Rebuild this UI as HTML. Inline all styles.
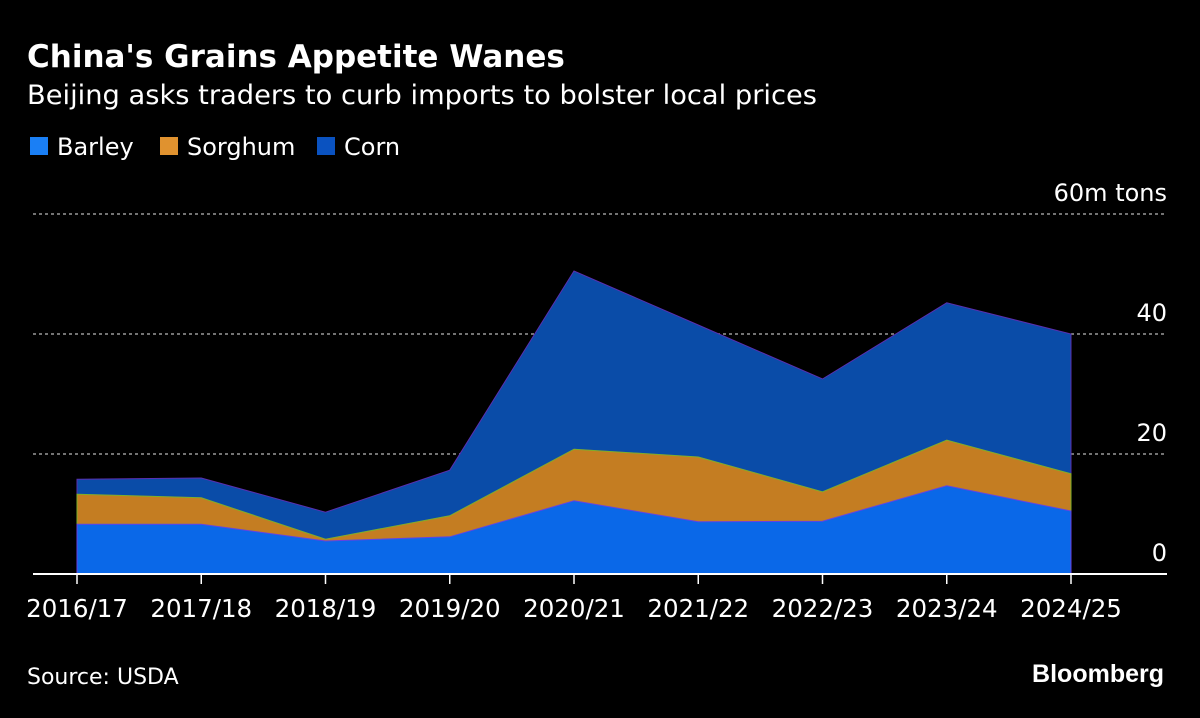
<!DOCTYPE html>
<html><head><meta charset="utf-8"><style>
body{margin:0;background:#000;width:1200px;height:714px;overflow:hidden;font-family:"DejaVu Sans","Liberation Sans",sans-serif;color:#fff}
</style></head><body>
<svg width="1200" height="714" xmlns="http://www.w3.org/2000/svg">
<text x="27" y="67" font-size="31" font-weight="bold" fill="#fff">China's Grains Appetite Wanes</text>
<text x="27" y="104" font-size="27" fill="#fff" textLength="790" lengthAdjust="spacingAndGlyphs">Beijing asks traders to curb imports to bolster local prices</text>
<g>
<rect x="30" y="137" width="18" height="18" fill="#1a7ff5"/>
<text x="57" y="155" font-size="24" fill="#fff">Barley</text>
<rect x="160" y="137" width="18" height="18" fill="#e0922f"/>
<text x="187" y="155" font-size="24" fill="#fff">Sorghum</text>
<rect x="317" y="137" width="18" height="18" fill="#0a52c0"/>
<text x="344" y="155" font-size="24" fill="#fff">Corn</text>
</g>
<g id="plot"></g>
<text x="27" y="684" font-size="22" fill="#fff">Source: USDA</text>
<text x="1164" y="682" font-size="25" font-weight="bold" fill="#fff" text-anchor="end" font-family="Liberation Sans, sans-serif">Bloomberg</text>
</svg>
<script>
const categories=["2016/17","2017/18","2018/19","2019/20","2020/21","2021/22","2022/23","2023/24","2024/25"];
const barley=[8.3,8.3,5.5,6.2,12.2,8.7,8.8,14.7,10.5];
const sorghum=[5.0,4.4,0.3,3.5,8.6,10.8,4.9,7.6,6.2];
const corn=[2.5,3.3,4.5,7.6,29.7,22.0,18.8,22.9,23.3];
const yTicks=[0,20,40,60];
const yTickLabels=["0","20","40","60m tons"];
const NS="http://www.w3.org/2000/svg";
const g=document.getElementById('plot');
const x=i=>77+i*(1071-77)/(categories.length-1);
const y=v=>574-v*6;
function mk(t,a){const e=document.createElementNS(NS,t);for(const k in a)e.setAttribute(k,a[k]);g.appendChild(e);return e;}
yTicks.forEach((t,i)=>{
 if(t>0){const l=mk('line',{x1:33,x2:1167,y1:y(t),y2:y(t),stroke:'#999','stroke-width':1.5,'stroke-dasharray':'3,3'});
 
 }
 const tx=mk('text',{x:1167,y:y(t)-13,'font-size':24,fill:'#fff','text-anchor':'end'});
 tx.textContent=yTickLabels[i];
 
 
});
const b0=categories.map(()=>0);
const b1=barley.slice();
const b2=barley.map((v,i)=>v+sorghum[i]);
const b3=b2.map((v,i)=>v+corn[i]);
function area(lo,hi,fill,name,edge){
 let d='M'+x(0)+','+y(hi[0]);
 for(let i=1;i<hi.length;i++)d+='L'+x(i)+','+y(hi[i]);
 for(let i=lo.length-1;i>=0;i--)d+='L'+x(i)+','+y(lo[i]);
 const p=mk('path',{d:d+'Z',fill:fill,stroke:edge,'stroke-width':1});
 
 
}
area(b2,b3,'#0a4ca8','area-corn','#5a2fb0');
area(b1,b2,'#c47d22','area-sorghum','#7bb02a');
area(b0,b1,'#0a68e8','area-barley','#6a40e0');
const ax=mk('line',{x1:33,x2:1167,y1:574,y2:574,stroke:'#fff','stroke-width':2});


categories.forEach((c,i)=>{
 const t=mk('line',{x1:x(i),x2:x(i),y1:574,y2:584,stroke:'#fff','stroke-width':1.5});
 
 
 const l=mk('text',{x:x(i),y:617,'font-size':24.5,fill:'#fff','text-anchor':'middle'});
 l.textContent=c;
 
 
});
</script>
</body></html>
